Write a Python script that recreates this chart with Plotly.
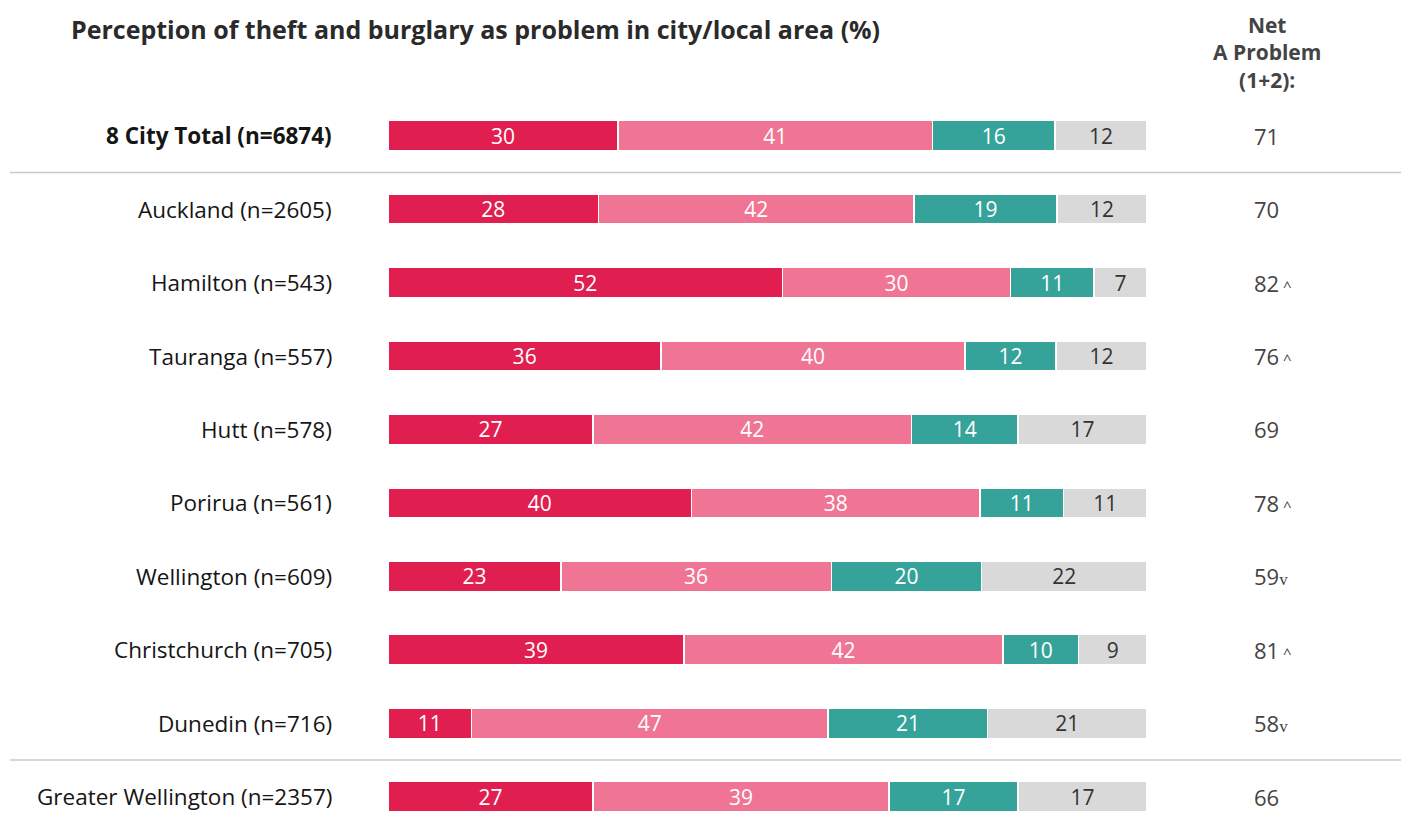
import plotly.graph_objects as go

categories = ["8 City Total (n=6874)", "Auckland (n=2605)", "Hamilton (n=543)",
              "Tauranga (n=557)", "Hutt (n=578)", "Porirua (n=561)",
              "Wellington (n=609)", "Christchurch (n=705)", "Dunedin (n=716)",
              "Greater Wellington (n=2357)"]
big_problem = [30, 28, 52, 36, 27, 40, 23, 39, 11, 27]
bit_problem = [41, 42, 30, 40, 42, 38, 36, 42, 47, 39]
not_problem = [16, 19, 11, 12, 14, 11, 20, 10, 21, 17]
dont_know = [12, 12, 7, 12, 17, 11, 22, 9, 21, 17]
net_problem = [71, 70, 82, 76, 69, 78, 59, 81, 58, 66]
significance = ["", "", "^", "^", "", "^", "v", "^", "v", ""]

series = [
    ("A big problem", big_problem, "#E01E50", "white"),
    ("A bit of a problem", bit_problem, "#F07595", "white"),
    ("Not a problem", not_problem, "#36A39A", "white"),
    ("Don't know", dont_know, "#D9D9D9", "#333333"),
]

OFF = 8  # default page body margin
W, H = 1409 - OFF, 822 - OFF
# reference page-pixel geometry
L_PAGE, R_PAGE, T_PAGE = 388, 1147, 99
L = L_PAGE - OFF
PW = R_PAGE - L_PAGE
R = W - L - PW
T = T_PAGE - OFF
B = 0
PH = H - T - B
FONT = "'Open Sans', Lato, Arial, sans-serif"


def px_x(p):
    return (p - OFF - L) / PW


def px_y(p):
    return (H - B - (p - OFF)) / PH


fig = go.Figure()
for name, vals, color, tcolor in series:
    fig.add_trace(go.Bar(
        y=categories, x=vals, name=name, orientation="h",
        marker=dict(color=color, line=dict(color="white", width=1.5)),
        text=[str(v) for v in vals], textposition="inside",
        insidetextanchor="middle", textangle=0, constraintext="none",
        textfont=dict(color=tcolor, size=21, family=FONT),
        showlegend=False, hoverinfo="skip",
    ))

annotations = []
for i, cat in enumerate(categories):
    label = f"<b>{cat}</b>" if i == 0 else cat
    annotations.append(dict(xref="paper", yref="y", x=px_x(334), y=cat,
                            text=label, xanchor="right", yanchor="middle",
                            showarrow=False,
                            font=dict(size=22.5, color="#151515", family=FONT)))
    mark = significance[i]
    if mark == "^":
        mtxt = "<span style='font-size:15px'> ^</span>"
    elif mark == "v":
        mtxt = "<span style='font-size:17px;font-family:Liberation Serif'>v</span>"
    else:
        mtxt = ""
    annotations.append(dict(xref="paper", yref="y", x=px_x(1252), y=cat,
                            text=f"{net_problem[i]}{mtxt}", xanchor="left",
                            yanchor="middle", showarrow=False,
                            font=dict(size=22, color="#444444", family=FONT)))

annotations.append(dict(xref="paper", yref="paper", x=px_x(69), y=px_y(29),
                        text="<b>Perception of theft and burglary as problem in city/local area (%)</b>",
                        xanchor="left", yanchor="middle", showarrow=False,
                        font=dict(size=25, color="#2a2a2a", family=FONT)))
annotations.append(dict(xref="paper", yref="paper", x=px_x(1267), y=px_y(52),
                        text="<b>Net<br>A Problem<br>(1+2):</b>",
                        xanchor="center", yanchor="middle", showarrow=False,
                        align="center",
                        font=dict(size=21, color="#444444", family=FONT)))

shapes = []
for yv in [0.5, 8.5]:
    shapes.append(dict(type="line", xref="paper", yref="y",
                       x0=px_x(10), x1=px_x(1405), y0=yv, y1=yv,
                       line=dict(color="#C8C8C8", width=1.5)))

fig.update_layout(
    width=W, height=H,
    margin=dict(l=L, r=R, t=T, b=B),
    barmode="stack", barnorm="percent", bargap=0.59,
    plot_bgcolor="white", paper_bgcolor="white",
    xaxis=dict(visible=False, range=[0, 100], fixedrange=True),
    yaxis=dict(visible=False, categoryorder="array", categoryarray=categories,
               range=[9.345, -0.5], autorange=False),
    annotations=annotations, shapes=shapes,
    uniformtext=dict(mode=False),
)

fig.write_html("out.html")
